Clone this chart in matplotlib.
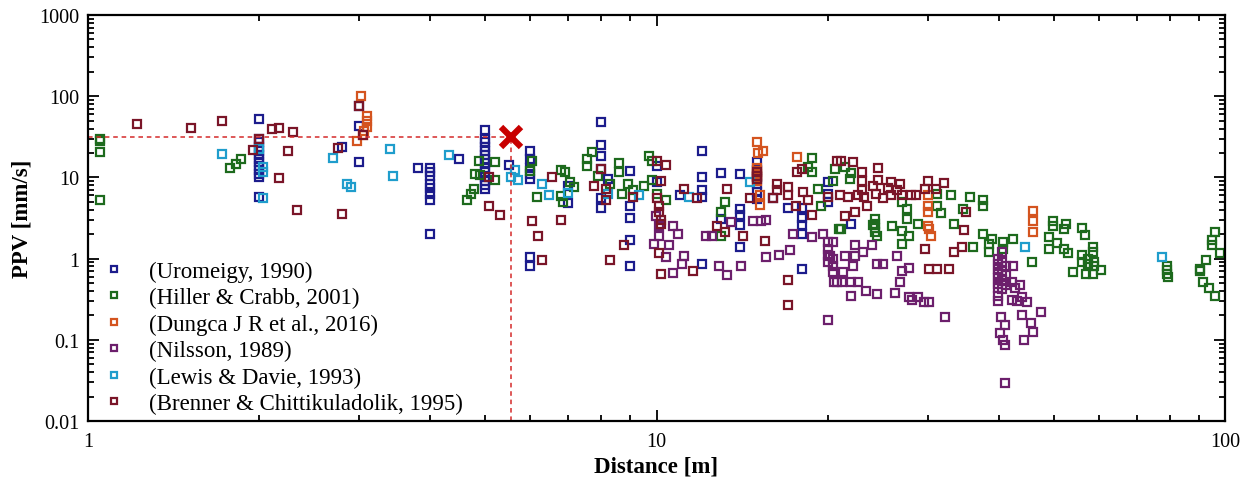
import numpy as np
import matplotlib
matplotlib.use('Agg')
import matplotlib.pyplot as plt
import matplotlib.ticker as ticker

plt.rcParams['font.family'] = ['Liberation Serif', 'DejaVu Serif']

# ---- data (distance [m], PPV [mm/s]) ----
uro_x = [2, 2, 2, 2, 2, 2, 2, 2, 2, 2, 2, 2, 2,
         2.8, 3, 3, 3, 3.8,
         4, 4, 4, 4, 4, 4, 4, 4, 4.5,
         5, 5, 5, 5, 5, 5, 5, 5, 5, 5, 5, 5, 5, 5, 5.5,
         6, 6, 6, 6, 6, 6, 6, 7, 7,
         8, 8, 8, 8, 8.2, 8, 8, 9, 9, 9, 9, 9, 10, 10,
         11, 12, 12, 12, 12, 12, 13, 13, 14, 14, 14, 14, 14,
         15, 15, 15, 15, 15, 15, 16, 17, 18, 18, 18, 18, 18, 20, 20, 20, 22]
uro_y = [53, 30, 27, 24, 21, 19, 17, 15.5, 14, 12.5, 11, 10, 5.8,
         24, 76, 43, 15.6, 13.2,
         13.2, 11.8, 10.5, 8.4, 7.4, 6.3, 5.2, 2.0, 17,
         38, 30, 27, 24, 21, 19, 17, 15, 13, 11.5, 10, 9, 8, 7.3, 14.4,
         21, 17, 13, 11, 9.5, 1.06, 0.82, 7.9, 4.9,
         48, 25, 18.5, 12.8, 9.6, 5.6, 4.25, 12, 4.4, 3.2, 1.7, 0.8, 8.7, 14,
         6.0, 21, 10, 6.9, 5.8, 0.87, 11.4, 3.1, 11, 4.1, 3.4, 2.6, 1.4,
         15.6, 12.5, 10, 8.2, 6.7, 5.4, 5.5, 4.25, 4.25, 3.2, 2.6, 2.0, 0.75, 8.9, 6.3, 5.0, 2.7]

hil_x = [1.05, 1.05, 1.05, 1.05, 1.78, 1.82, 1.86,
         4.64, 4.72, 4.78, 4.8, 4.87, 4.9, 5.2, 5.2,
         6.05, 6.0, 6.17, 6.8, 6.9, 7.05, 7.15, 6.8, 6.85,
         7.55, 7.7, 7.55, 7.9, 8.3, 8.6, 8.6, 8.7, 8.9, 9.1, 9.5, 9.7,
         9.8, 9.8, 10.0, 10.4, 13.2, 13, 13,
         18.8, 18.5, 18.8, 19.2, 19.5, 20.4, 20.9,
         20.6, 21.5, 22, 21.9, 21.1,
         24.2, 24.2, 24.2, 24.2, 24.4, 24.0,
         26, 27, 27.6, 27.6, 27, 27, 27.8, 28.8,
         31.2, 31.2, 31.7, 33, 33.4, 34.6, 35.6, 37.6, 37.6, 37.5, 38.5, 36, 38.9,
         40.7, 40.7, 42.4, 38.5, 45.7,
         49.8, 49.8, 52.5, 52, 49, 49, 50.6, 52, 53, 56, 56.8, 56, 56, 54,
         58.5, 58.5, 57.5, 57.5, 57, 58.7, 60.5, 58.9, 58.9,
         79, 79, 79, 79.5,
         90.3, 92.5, 91.5, 93.6, 96, 96, 95, 95, 98, 90.3]
hil_y = [30, 28, 20.5, 5.3, 13, 14.5, 17,
         5.2, 6.3, 7.3, 11, 16, 10.8, 15.6, 9.4,
         16, 12, 5.8, 12.5, 11.8, 8.9, 7.7, 5.9, 5.0,
         17, 20.8, 14, 10.5, 8.4, 15, 11.8, 6.3, 8.4, 6.9, 7.9, 18.5,
         16, 9.4, 6.3, 5.2, 5.0, 3.8, 1.9,
         17.5, 13.6, 11.8, 7.3, 4.5, 9.1, 2.3,
         12.8, 13.6, 11.4, 9.6, 2.3,
         3.1, 2.7, 2.4, 2.1, 1.9, 2.6,
         2.55, 5.0, 4.1, 3.1, 2.2, 1.53, 1.9, 2.7,
         6.3, 4.5, 3.6, 6.1, 2.7, 4.1, 5.8, 5.2, 4.4, 2.03, 1.53, 1.4, 1.76,
         1.6, 1.33, 1.76, 1.2, 0.92,
         2.9, 2.5, 2.7, 2.34, 1.87, 1.33, 1.57, 1.33, 1.18, 2.4, 1.97, 1.1, 0.92, 0.69,
         1.4, 1.2, 1.0, 0.85, 0.64, 0.64, 0.73, 0.9, 0.8,
         0.82, 0.73, 0.65, 0.6,
         0.75, 0.97, 0.52, 0.43, 0.35, 2.15, 1.7, 1.45, 1.18, 0.7]

dun_x = [3.02, 3.1, 3.1, 3.1, 3.06, 3.04, 2.97,
         15, 15.1, 15.4, 15, 15, 15, 15, 15, 15.2, 15.2, 17.7,
         30, 30, 30, 30, 30.2, 30.4,
         45.9, 45.9, 45.9]
dun_y = [100, 57, 49, 42, 37, 33, 28.4,
         27, 20, 21.4, 13, 12, 11, 10, 9, 6.1, 4.6, 18,
         6.0, 4.5, 3.8, 2.55, 2.34, 1.92,
         3.9, 2.9, 2.15]

nil_x = [9.96, 10.1, 10.1, 10.7, 10.9, 9.9, 10.5, 10.4, 11.2, 11.1, 10.7,
         12.2, 12.5, 13.5, 14.8, 15.3, 15.6, 12.9, 13.3, 14.1, 15.6, 16.4, 17.2, 17.4,
         18.8, 19.6, 20, 20, 20, 20, 20.2, 20.4, 20.5, 20,
         20.4, 20.4, 20.4, 21.5, 22.3, 22.2, 21.3, 23.1, 23.9, 22.3, 20.8, 21.2, 22, 22.6,
         22, 23.4, 24.4, 25, 24.4, 26.5, 27, 27.8, 26.8, 26.3, 27.8, 28.2, 28.8, 29.6, 30.2, 32.2,
         39.8, 39.8, 39.8, 39.8, 39.8, 39.8, 39.8, 39.8, 39.8,
         40.6, 40.6, 40.6, 40.6, 40.6, 41.2, 41.2, 41.2, 42.4, 42.2, 43.6, 42.8, 44, 44.8, 43, 42.2,
         40.4, 41, 40.2, 40.7, 41, 44, 45.6, 44.3, 46, 47.5, 41]
nil_y = [3.3, 2.5, 1.9, 2.5, 2.03, 1.53, 1.45, 1.06, 1.09, 0.87, 0.67,
         1.92, 1.92, 2.8, 2.94, 2.94, 3.0, 0.82, 0.62, 0.82, 1.06, 1.12, 1.29, 2.03,
         1.87, 2.03, 1.6, 1.3, 1.1, 0.92, 1.09, 0.69, 0.52, 0.177,
         1.6, 1.0, 0.82, 1.09, 1.09, 0.82, 0.69, 1.22, 1.45, 1.45, 0.52, 0.51, 0.52, 0.52,
         0.35, 0.4, 0.37, 0.87, 0.87, 1.09, 0.71, 0.77, 0.52, 0.38, 0.34, 0.31, 0.34, 0.29, 0.29, 0.19,
         1.0, 0.87, 0.75, 0.65, 0.57, 0.49, 0.43, 0.35, 0.30,
         1.2, 0.9, 0.7, 0.55, 0.42, 0.8, 0.62, 0.47, 0.80, 0.52, 0.47, 0.43, 0.34, 0.29, 0.30, 0.31,
         0.19, 0.154, 0.12, 0.10, 0.087, 0.20, 0.163, 0.10, 0.123, 0.217, 0.0297]

lew_x = [1.72, 2.0, 2.03, 2.03, 2.03, 2.7, 2.86, 2.9, 3.4, 3.44, 4.32,
         5.64, 5.55, 5.7, 6.3, 6.46, 7, 8.2, 9.3, 11.4, 14.6, 44.5, 77.5]
lew_y = [19.6, 22.6, 13.6, 11.8, 5.5, 17.5, 8.4, 7.7, 22.6, 10.5, 19,
         12.4, 10, 9.2, 8.2, 6.1, 6.5, 6.3, 6.0, 5.8, 8.9, 1.37, 1.06]

bre_x = [1.22, 1.52, 1.72, 1.95, 2.0, 2.11, 2.17, 2.29, 2.25, 2.17, 2.33, 2.75, 2.8, 3.0, 3.04,
         5.07, 5.07, 5.3, 6.05, 6.2, 6.3, 6.55, 6.8, 7.75, 8.0, 8.15, 8.15, 8.75, 8.3, 9.1,
         10, 10.4, 10.2, 10, 10.1, 10.1, 10.2, 10.2, 10.1, 10.2, 11.2, 11.8, 11.6, 13.3, 12.8,
         13.2, 14.2, 14.6, 16.3, 16.3, 16, 15.5, 17, 17, 17.7, 18, 18.1, 17.6, 18.5, 18.8, 17, 17,
         20, 20.8, 15, 15, 15,
         21.1, 22.2, 23, 23, 24.5, 24.5, 25.9, 26.8, 21, 21.7, 22.6, 23.2, 24.3, 25, 25.9, 26.5,
         27, 28, 28.6, 29.7, 30, 31, 32, 23.5, 22.3, 21.5, 23, 24, 25.5,
         35, 34.8, 34.4, 33.4, 30.2, 31.2, 32.7, 29.7]
bre_y = [46, 41, 50, 22, 30, 39, 41, 36.6, 21.4, 9.9, 4.0, 23.3, 3.5, 76, 33,
         10, 4.4, 3.4, 2.94, 1.92, 0.97, 10, 3.0, 7.9, 12.8, 7.3, 5.2, 1.45, 0.97, 5.8,
         16, 14.4, 9, 5.5, 4.5, 3.8, 3.0, 2.7, 1.18, 0.64, 7.1, 5.5, 0.71, 7.3, 2.5,
         2.15, 1.92, 5.6, 8.4, 6.9, 5.5, 1.67, 7.7, 6.1, 11.8, 12.8, 6.7, 4.5, 5.2, 3.4, 0.54, 0.27,
         5.8, 16, 11.5, 10.5, 9.5,
         16, 15.6, 11.8, 9.0, 13.2, 9.2, 8.9, 8.2, 6.0, 5.8, 6.0, 5.8, 6.2, 5.6, 6.0, 6.9,
         6.1, 6.1, 6.1, 7.3, 9.0, 7.3, 8.6, 4.5, 3.8, 3.3, 7.0, 7.9, 7.5,
         3.7, 2.27, 1.4, 1.22, 0.75, 0.75, 0.75, 1.33]

series = [
    ('(Uromeigy, 1990)', uro_x, uro_y, '#1c1c8c'),
    ('(Hiller & Crabb, 2001)', hil_x, hil_y, '#1d6a1d'),
    ('(Dungca J R et al., 2016)', dun_x, dun_y, '#d4541f'),
    ('(Nilsson, 1989)', nil_x, nil_y, '#6c1f6c'),
    ('(Lewis & Davie, 1993)', lew_x, lew_y, '#1f9dcc'),
    ('(Brenner & Chittikuladolik, 1995)', bre_x, bre_y, '#7a1528'),
]

# design point
pt_x = 5.55
pt_y = 31.8

fig = plt.figure(figsize=(12.5, 4.81), dpi=100)
ax = fig.add_axes([0.0704, 0.1227, 0.9096, 0.844])

for label, xs, ys, col in series:
    ax.plot(xs, ys, linestyle='none', marker='s', markersize=5.2,
            markerfacecolor='none', markeredgecolor=col, markeredgewidth=1.6,
            label=label)

ax.plot([1, pt_x], [pt_y, pt_y], color='#d42a2a', linestyle=(0, (3, 2.5)), linewidth=1.1)
ax.plot([pt_x, pt_x], [0.01, pt_y], color='#d42a2a', linestyle=(0, (3, 2.5)), linewidth=1.1)
ax.plot([pt_x], [pt_y], marker='x', color='#c80000', markersize=14, markeredgewidth=4.5)

ax.set_xscale('log')
ax.set_yscale('log')
ax.set_xlim(1, 100)
ax.set_ylim(0.01, 1000)

fmt = ticker.FuncFormatter(lambda v, p: '%g' % v)
ax.xaxis.set_major_formatter(fmt)
ax.yaxis.set_major_formatter(fmt)
ax.xaxis.set_minor_formatter(ticker.NullFormatter())
ax.yaxis.set_minor_formatter(ticker.NullFormatter())
ax.xaxis.set_minor_locator(ticker.LogLocator(base=10, subs=np.arange(2, 10)))
ax.yaxis.set_minor_locator(ticker.LogLocator(base=10, subs=np.arange(2, 10)))

ax.tick_params(which='both', direction='in', top=True, right=True, width=1.3, labelsize=14.5)
ax.tick_params(which='major', length=8)
ax.tick_params(which='minor', length=4.5)
ax.tick_params(axis='x', pad=8)
ax.tick_params(axis='y', pad=6)
for s in ax.spines.values():
    s.set_linewidth(1.6)

ax.set_xlabel('Distance [m]', fontsize=16.5, fontweight='bold', labelpad=3)
ax.set_ylabel('PPV [mm/s]', fontsize=16.5, fontweight='bold', labelpad=5)

ax.legend(loc='lower left', bbox_to_anchor=(0.005, -0.006), frameon=False, fontsize=16.5,
          markerscale=0.75, labelspacing=0.23, handlelength=1.0, handletextpad=1.0,
          borderaxespad=0.0)

fig.savefig('out.png', dpi=100)
